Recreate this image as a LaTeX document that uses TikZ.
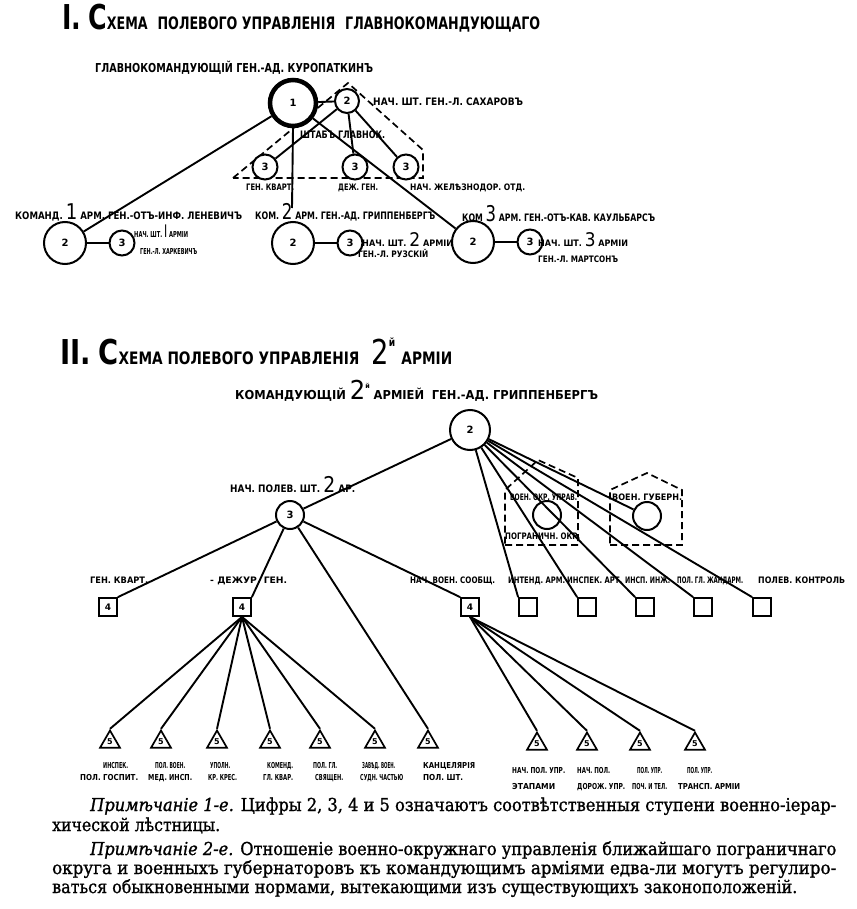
\documentclass[tikz,border=0pt]{standalone}
\usepackage{fontspec}
\setmainfont{DejaVu Serif}[FakeBold=1.2]
\setsansfont{DejaVu Sans}
\usetikzlibrary{shapes.geometric}
\newcommand{\fitw}[3]{\resizebox{#1pt}{#2pt}{\raisebox{0pt}[0.73em][0pt]{#3}}}
\newcommand{\bignum}[1]{{\mdseries\fontsize{19}{19}\selectfont #1}}

\begin{document}
\begin{tikzpicture}[x=1pt, y=-1pt,
  lab/.style={font=\sffamily\bfseries\fontsize{9}{9}\selectfont, inner sep=0pt, anchor=base west},
  ring/.style={circle, draw, line width=2pt, fill=white, inner sep=0pt,
    font=\sffamily\bfseries\fontsize{10}{10}\selectfont},
  cell/.style={draw, line width=1.8pt, fill=white, minimum size=18pt, inner sep=0pt,
    font=\sffamily\bfseries\fontsize{9}{9}\selectfont},
  tri/.style={regular polygon, regular polygon sides=3, draw, line width=1.7pt, fill=white,
    minimum size=23pt, inner sep=0pt, font=\sffamily\bfseries\fontsize{8}{8}\selectfont},
  link/.style={line width=1.9pt},
  fence/.style={line width=1.7pt, dash pattern=on 7pt off 4pt},
  note/.style={font=\fontsize{15}{15}\selectfont, inner sep=0pt, anchor=base west}]

\fill[white] (0,0) rectangle (856,909);
\useasboundingbox (0,0) rectangle (856,909);

% I. field staff of the commander in chief
\node[lab] (title1) at (62,30) {\fitw{478}{12.5}{{\fontsize{18}{18}\selectfont I.\hspace{5pt}С}ХЕМА\hspace{7pt}ПОЛЕВОГО УПРАВЛЕНІЯ\hspace{7pt}ГЛАВНОКОМАНДУЮЩАГО}};
\node[lab] (chiefname) at (95,73) {\fitw{278}{9}{ГЛАВНОКОМАНДУЮЩІЙ ГЕН.-АД. КУРОПАТКИНЪ}};

\draw[fence] (233,178) -- (348,83) -- (423,150) -- (423,178) -- cycle;

\node[ring, line width=4.5pt, minimum size=46pt] (chief) at (293,103) {1};
\node[ring, minimum size=24pt] (staff) at (347,101) {2};
\node[lab] (staffname) at (373,106) {\fitw{150}{7.5}{НАЧ. ШТ. ГЕН.-Л. САХАРОВЪ}};
\node[lab] (hq) at (300,139) {\fitw{85}{7.5}{ШТАБЪ ГЛАВНОК.}};
\foreach \n/\x in {qm/265, duty/355, rail/406}
  \node[ring, minimum size=25pt] (\n) at (\x,167) {3};
\node[lab] (qmname) at (246,191) {\fitw{48}{6.5}{ГЕН. КВАРТ.}};
\node[lab] (dutyname) at (338,191) {\fitw{40}{6.5}{ДЕЖ. ГЕН.}};
\node[lab] (railname) at (410,191) {\fitw{115}{6.5}{НАЧ. ЖЕЛѢЗНОДОР. ОТД.}};

\node[lab] (arm1) at (15,220) {\fitw{227}{7.5}{КОМАНД. \bignum{1} АРМ. ГЕН.-ОТЪ-ИНФ. ЛЕНЕВИЧЪ}};
\node[lab] (arm2) at (255,220) {\fitw{180}{7.5}{КОМ. \bignum{2} АРМ. ГЕН.-АД. ГРИППЕНБЕРГЪ}};
\node[lab] (arm3) at (462,222) {\fitw{193}{7.5}{КОМ \bignum{3} АРМ. ГЕН.-ОТЪ-КАВ. КАУЛЬБАРСЪ}};
\foreach \i/\x/\y in {1/65/243, 2/293/243, 3/473/242} {
  \node[ring, minimum size=42pt] (a\i) at (\x,\y) {2};
  \node[ring, minimum size=25pt] (s\i) at (\x+57,\y) {3};
  \draw[link] (a\i) -- (s\i);
}
\node[lab] (nsh1) at (134,237) {\fitw{54}{6}{НАЧ. ШТ. \bignum{I} АРМІИ}};
\node[lab] (gen1) at (140,254) {\fitw{57}{6}{ГЕН.-Л. ХАРКЕВИЧЪ}};
\node[lab] (nsh2) at (362,246) {\fitw{91}{6.5}{НАЧ. ШТ. \bignum{2} АРМІИ}};
\node[lab] (gen2) at (358,257) {\fitw{70}{6.5}{ГЕН.-Л. РУЗСКІЙ}};
\node[lab] (nsh3) at (538,246) {\fitw{90}{6.5}{НАЧ. ШТ. \bignum{3} АРМІИ}};
\node[lab] (gen3) at (538,262) {\fitw{80}{6.5}{ГЕН.-Л. МАРТСОНЪ}};
\coordinate (arm2top) at (292,208);

\draw[link] (chief) -- (staff);
\foreach \n in {qm,duty,rail} \draw[link] (staff) -- (\n);
\draw[link] (chief) -- (a1);
\draw[link] (chief.south) -- (arm2top);
\draw[link] (chief) -- (a3);

% II. field staff of the 2nd army
\node[lab] (title2) at (60,364) {\fitw{392}{12.5}{{\fontsize{18}{18}\selectfont II.\hspace{5pt}С}ХЕМА ПОЛЕВОГО УПРАВЛЕНІЯ\hspace{8pt}{\mdseries\fontsize{18}{18}\selectfont 2}\raisebox{9pt}{\fontsize{6}{6}\selectfont й}\hspace{4pt}АРМІИ}};
\node[lab] (cmdname) at (235,399) {\fitw{363}{9}{КОМАНДУЮЩІЙ \bignum{2}\raisebox{8pt}{\fontsize{5}{5}\selectfont й} АРМІЕЙ\hspace{6pt}ГЕН.-АД. ГРИППЕНБЕРГЪ}};

\draw[fence] (505,545) -- (578,545) -- (578,478) -- (538,460) -- (505,490) -- cycle;
\draw[fence] (610,545) -- (682,545) -- (682,490) -- (647,473) -- (610,490) -- cycle;

\node[ring, minimum size=40pt] (cmd) at (470,430) {2};
\node[ring, minimum size=28pt] (fstaff) at (290,515) {3};
\node[lab] (fstaffname) at (230,492) {\fitw{125}{7.5}{НАЧ. ПОЛЕВ. ШТ. \bignum{2} АР.}};
\node[ring, minimum size=28pt] (okr) at (547,515) {};
\node[ring, minimum size=28pt] (gub) at (647,516) {};
\node[lab] (okrname) at (510,500) {\fitw{67}{6.5}{ВОЕН. ОКР. УПРАВ.}};
\node[lab] (bordname) at (505,539) {\fitw{75}{6.5}{ПОГРАНИЧН. ОКР.}};
\node[lab] (gubname) at (612,500) {\fitw{70}{6.5}{ВОЕН. ГУБЕРН.}};

\foreach \x/\t [count=\i] in {108/4, 242/4, 470/4, 528/, 587/, 645/, 703/, 762/}
  \node[cell] (q\i) at (\x,607) {\t};
\foreach \x/\w/\t [count=\i] in {90/58/{ГЕН. КВАРТ.}, 210/77/{- ДЕЖУР. ГЕН.}, 410/85/{НАЧ. ВОЕН. СООБЩ.},
    508/57/{ИНТЕНД. АРМ.}, 567/55/{ИНСПЕК. АРТ.}, 625/45/{ИНСП. ИНЖ.},
    677/66/{ПОЛ. ГЛ. ЖАНДАРМ.}, 758/87/{ПОЛЕВ. КОНТРОЛЬ}}
  \node[lab] (dept\i) at (\x,583) {\fitw{\w}{6.5}{\t}};

\foreach \x [count=\i] in {110,161,217,270,320,375,428}
  \node[tri] (t\i) at (\x,742) {5};
\foreach \x/\w/\t [count=\i] in {103/25/{ИНСПЕК.}, 155/30/{ПОЛ. ВОЕН.}, 210/20/{УПОЛН.}, 267/26/{КОМЕНД.},
    313/24/{ПОЛ. ГЛ.}, 362/33/{ЗАВѢД. ВОЕН.}, 423/52/{КАНЦЕЛЯРІЯ}}
  \node[lab] (ta\i) at (\x,768) {\fitw{\w}{6}{\t}};
\foreach \x/\w/\t [count=\i] in {80/58/{ПОЛ. ГОСПИТ.}, 148/44/{МЕД. ИНСП.}, 208/29/{КР. КРЕС.}, 263/30/{ГЛ. КВАР.},
    315/28/{СВЯЩЕН.}, 360/43/{СУДН. ЧАСТЬЮ}, 423/40/{ПОЛ. ШТ.}}
  \node[lab] (tb\i) at (\x,780) {\fitw{\w}{6}{\t}};

\foreach \x [count=\i] in {537,587,640,695}
  \node[tri] (r\i) at (\x,744) {5};
\foreach \x/\w/\t [count=\i] in {512/53/{НАЧ. ПОЛ. УПР.}, 577/33/{НАЧ. ПОЛ.}, 637/25/{ПОЛ. УПР.}, 687/25/{ПОЛ. УПР.}}
  \node[lab] (ra\i) at (\x,773) {\fitw{\w}{6}{\t}};
\foreach \x/\w/\t [count=\i] in {512/43/{ЭТАПАМИ}, 577/48/{ДОРОЖ. УПР.}, 632/35/{ПОЧ. И ТЕЛ.}, 678/62/{ТРАНСП. АРМІИ}}
  \node[lab] (rb\i) at (\x,789) {\fitw{\w}{6}{\t}};

\draw[link] (cmd) -- (fstaff);
\foreach \i in {4,...,8} \draw[link] (cmd) -- (q\i.north west);
\draw[link] (cmd) -- (gub);
\draw[link] (fstaff) -- (q1.north east);
\draw[link] (fstaff) -- (q2.north east);
\draw[link] (fstaff) -- (q3.north west);
\draw[link] (fstaff) -- (t7.corner 1);
\foreach \i in {1,...,6} \draw[link] (q2.south) -- (t\i.corner 1);
\foreach \i in {1,...,4} \draw[link] (q3.south) -- (r\i.corner 1);

% notes
\node[note] (note1) at (90,811) {\fitw{746}{13}{\textit{Примѣчаніе 1-е.} Цифры 2, 3, 4 и 5 означаютъ соотвѣтственныя ступени военно-іерар-}};
\node[note] (note1b) at (52,831) {\fitw{168}{13}{хической лѣстницы.}};
\node[note] (note2) at (90,855) {\fitw{746}{13}{\textit{Примѣчаніе 2-е.} Отношеніе военно-окружнаго управленія ближайшаго пограничнаго}};
\node[note] (note2b) at (52,874) {\fitw{784}{13}{округа и военныхъ губернаторовъ къ командующимъ арміями едва-ли могутъ регулиро-}};
\node[note] (note2c) at (52,893) {\fitw{745}{13}{ваться обыкновенными нормами, вытекающими изъ существующихъ законоположеній.}};
\end{tikzpicture}
\end{document}
